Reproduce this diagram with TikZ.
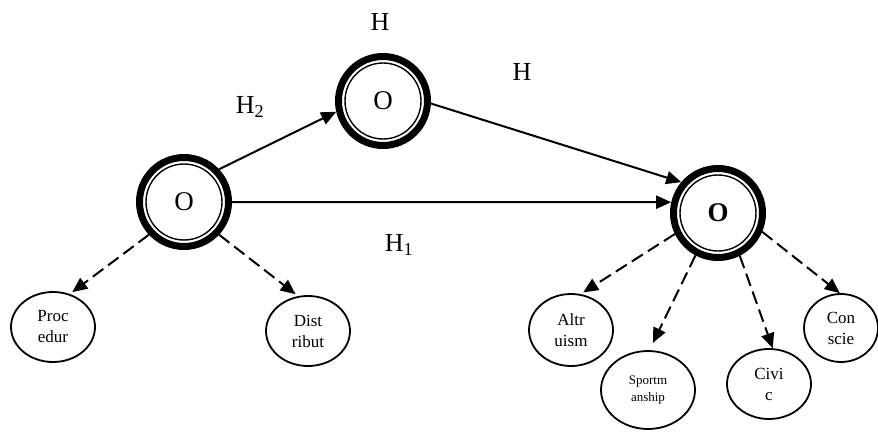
\documentclass[tikz,border=0pt]{standalone}
\usepackage{fontspec}
\setmainfont{Liberation Serif}
\usetikzlibrary{arrows.meta,shapes.geometric}

\begin{document}
\begin{tikzpicture}[x=1pt,y=-1pt,
  construct/.style={circle, draw, line width=7pt, minimum size=89pt, inner sep=0pt,
    font=\fontsize{27}{27}\selectfont,
    path picture={\draw[line width=1.4pt] (path picture bounding box.center) circle (38pt);}},
  dimension/.style={ellipse, draw, line width=1.8pt, inner sep=0pt, align=center,
    font=\fontsize{17}{21}\selectfont},
  label text/.style={font=\fontsize{26}{26}\selectfont, inner sep=0pt},
  effect/.style={line width=2pt, -{Triangle[length=15pt,width=13pt]}},
  facet/.style={effect, dash pattern=on 13pt off 6pt}
]
\useasboundingbox (0,0) rectangle (878,433);

% latent constructs
\node[construct] (L) at (184,202) {O};
\node[construct] (M) at (383,101) {O};
\node[construct] (R) at (718,213) {\bfseries O};

% dimensions
\node[dimension, minimum width=84pt, minimum height=70pt] (proc) at (53,327) {Proc\\edur};
\node[dimension, minimum width=84pt, minimum height=70pt] (dist) at (308,331) {Dist\\ribut};
\node[dimension, minimum width=84pt, minimum height=72pt] (altr) at (571,330) {Altr\\uism};
\node[dimension, minimum width=94pt, minimum height=78pt, font=\fontsize{13}{17}\selectfont] (sport) at (648,390) {Sportm\\anship};
\node[dimension, minimum width=84pt, minimum height=70pt] (civi) at (769,384) {Civi\\c};
\node[dimension, minimum width=74pt, minimum height=68pt] (con) at (841,328) {Con\\scie};

% hypothesis labels
\node[label text] (hTop) at (380,22) {H};
\node[label text] (hRight) at (522,72) {H};
\node[label text] (h2) at (250,107) {H\textsubscript{2}};
\node[label text] (h1) at (399,245) {H\textsubscript{1}};

% structural paths
\draw[effect] (L.43) -- (M.193);
\draw[effect] (M.-3) -- (R.140);
\draw[effect] (L.east) -- (R.167);

% dimension paths
\draw[facet, shorten >=3pt] (L.223) -- (proc.63);
\draw[facet, shorten >=3pt] (L.-43) -- (dist.106);
\draw[facet, shorten >=3pt] (R.206) -- (altr.75);
\draw[facet, shorten >=8pt] (R.242) -- (sport.88);
\draw[facet] (R.-63) -- (civi.84);
\draw[facet] (R.-23) -- (con.92);
\end{tikzpicture}
\end{document}
